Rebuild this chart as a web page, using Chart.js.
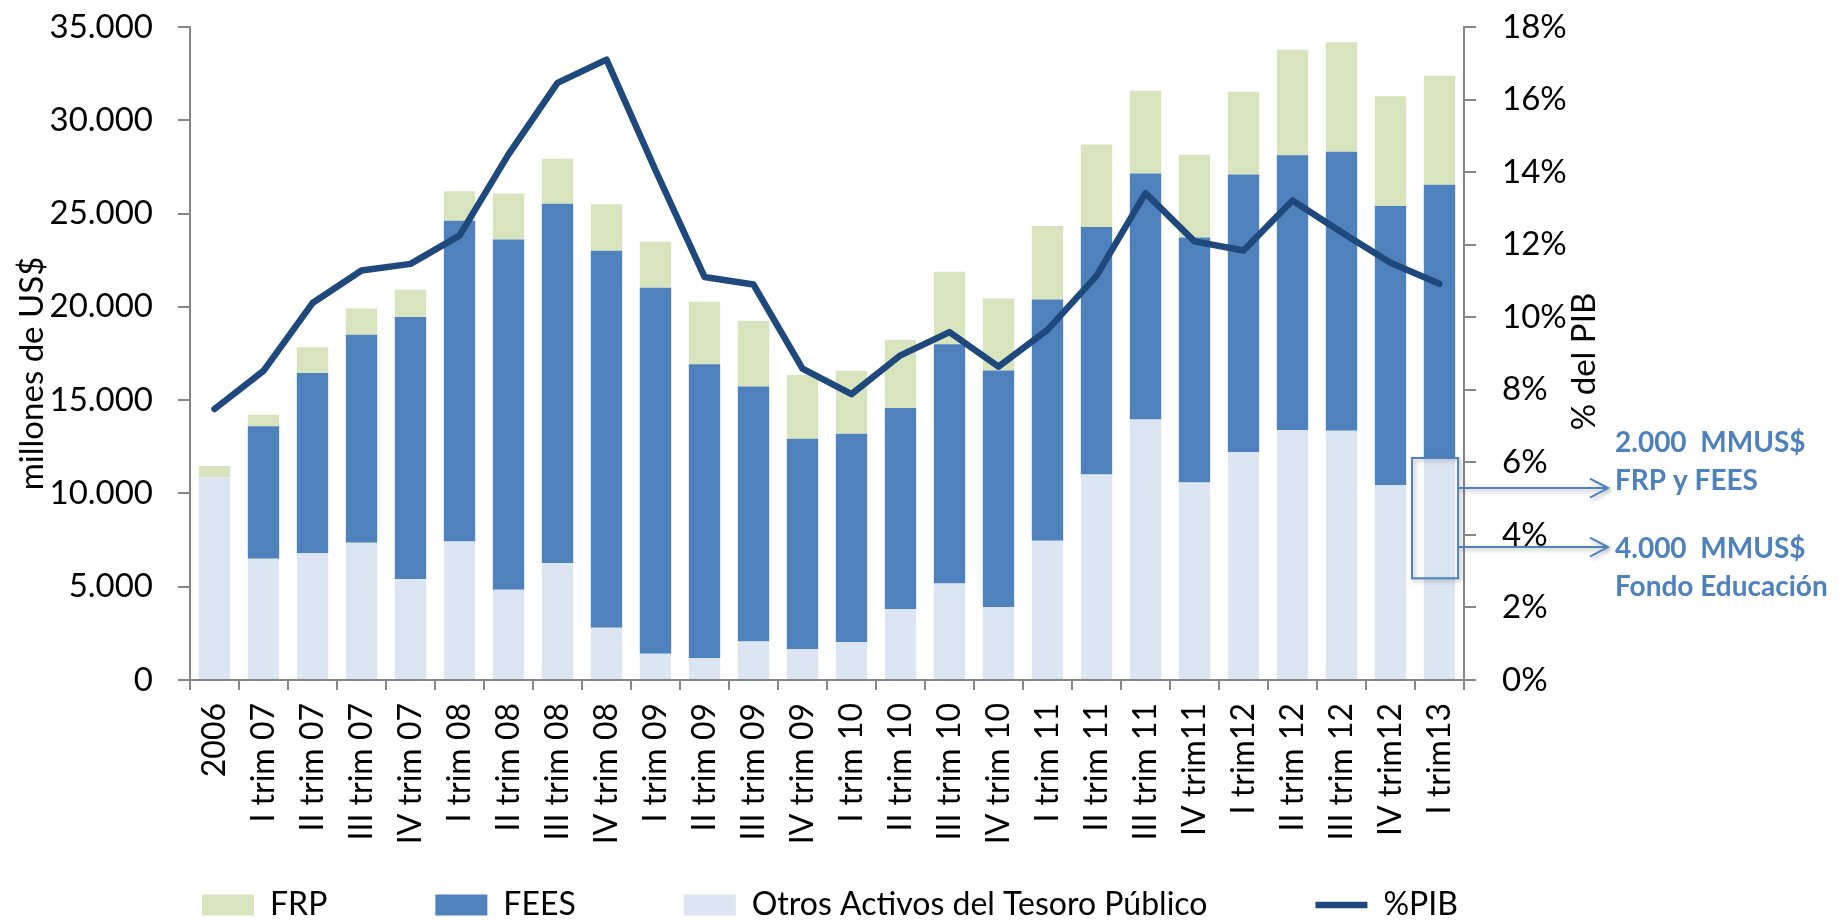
<!DOCTYPE html>
<html><head><meta charset="utf-8">
<script src="https://cdn.jsdelivr.net/npm/chart.js@4.4.1/dist/chart.umd.min.js"></script>
<style>html,body{margin:0;padding:0;background:#fff}#wrap{width:1841px;height:920px;position:relative}</style>
</head><body><div id="wrap"><canvas id="c"></canvas></div>
<script>
const categories = ['2006','I trim 07','II trim 07','III trim 07','IV trim 07','I trim 08','II trim 08','III trim 08','IV trim 08','I trim 09','II trim 09','III trim 09','IV trim 09','I trim 10','II trim 10','III trim 10','IV trim 10','I trim 11','II trim 11','III trim 11','IV trim11','I trim12','II trim 12','III trim 12','IV trim12','I trim13'];
const otros = [10870, 6500, 6800, 7350, 5410, 7420, 4840, 6270, 2800, 1410, 1170, 2060, 1650, 2035, 3810, 5170, 3900, 7470, 11010, 13960, 10580, 12210, 13380, 13360, 10440, 11830];
const fees  = [0, 7100, 9650, 11150, 14050, 17190, 18770, 19250, 20210, 19610, 15760, 13670, 11280, 11160, 10770, 12830, 12690, 12930, 13265, 13190, 13140, 14890, 14750, 14960, 14960, 14720];
const frp   = [600, 620, 1390, 1410, 1460, 1580, 2470, 2420, 2490, 2470, 3350, 3520, 3420, 3380, 3660, 3880, 3860, 3930, 4430, 4430, 4430, 4430, 5650, 5865, 5890, 5840];
const pibPct = [7.47, 8.52, 10.39, 11.29, 11.47, 12.25, 14.49, 16.46, 17.10, 14.05, 11.11, 10.90, 8.58, 7.88, 8.95, 9.59, 8.64, 9.65, 11.14, 13.42, 12.09, 11.84, 13.22, 12.34, 11.50, 10.92];
const seriesNames = ['Otros Activos del Tesoro Público', 'FEES', 'FRP', '%PIB'];
const axisTitles = ['millones de US$', '% del PIB'];
const eduBoxRange = [5450, 11900];
const noteLines = ['2.000  MMUS$', 'FRP y FEES', '4.000  MMUS$', 'Fondo Educación'];

Chart.defaults.font.family = 'Lato';
Chart.defaults.font.size = 33;
Chart.defaults.color = '#000';

const GRAY = '#868686';
const NOTE = '#4f81bd';
const legendRank = {2: 0, 1: 1, 0: 2, 3: 3};
const fmtThousands = v => String(v).replace(/\B(?=(\d{3})+(?!\d))/g, '.');
const noLabelClip = s => { s._computeLabelArea = () => undefined; };

const decor = {
  id: 'decor',
  afterDraw(chart) {
    const {ctx, chartArea: ca, scales} = chart;
    const xs = scales.x, ys = scales.y;
    const midY = (ca.top + ca.bottom) / 2;
    ctx.save();
    ctx.fillStyle = '#000';
    ctx.font = '33px Lato';
    ctx.textAlign = 'center';
    ctx.textBaseline = 'middle';
    ctx.save(); ctx.translate(ca.left - 158, midY + 20); ctx.rotate(-Math.PI / 2); ctx.fillText(axisTitles[0], 0, 0); ctx.restore();
    ctx.save(); ctx.translate(ca.right + 120, midY + 8); ctx.rotate(-Math.PI / 2); ctx.fillText(axisTitles[1], 0, 0); ctx.restore();

    // annotation box on last bar
    const last = categories.length - 1;
    const cx = xs.getPixelForValue(last);
    const catW = xs.getPixelForValue(1) - xs.getPixelForValue(0);
    const bx0 = cx - 0.56 * catW, bx1 = cx + 0.38 * catW;
    const by0 = ys.getPixelForValue(eduBoxRange[1]), by1 = ys.getPixelForValue(eduBoxRange[0]);
    const tipX = ca.right + 144;
    const a1 = by0 + 0.25 * (by1 - by0);
    const a2 = by0 + 0.74 * (by1 - by0);
    ctx.shadowColor = 'rgba(0,0,0,0.3)';
    ctx.shadowBlur = 4; ctx.shadowOffsetX = 2; ctx.shadowOffsetY = 2;
    ctx.strokeStyle = NOTE; ctx.lineWidth = 2;
    ctx.strokeRect(bx0, by0, bx1 - bx0, by1 - by0);
    [a1, a2].forEach(ay => {
      ctx.beginPath();
      ctx.moveTo(bx1, ay); ctx.lineTo(tipX, ay);
      ctx.moveTo(tipX - 18, ay - 9.5); ctx.lineTo(tipX, ay); ctx.lineTo(tipX - 18, ay + 9.5);
      ctx.stroke();
    });
    ctx.shadowColor = 'transparent';
    ctx.fillStyle = NOTE;
    ctx.font = 'bold 28px Lato';
    ctx.textAlign = 'left';
    ctx.textBaseline = 'alphabetic';
    const tx = ca.right + 151;
    ctx.fillText(noteLines[0], tx, a1 - 36);
    ctx.fillText(noteLines[1], tx, a1 + 1.5);
    ctx.fillText(noteLines[2], tx, a2 + 11);
    ctx.fillText(noteLines[3], tx, a2 + 49);
    ctx.restore();
  }
};

new Chart(document.getElementById('c'), {
  data: {
    labels: categories,
    datasets: [
      {type: 'bar', label: seriesNames[0], data: otros, backgroundColor: '#dce6f2', yAxisID: 'y', stack: 's', barPercentage: 0.64, categoryPercentage: 1.0, order: 0},
      {type: 'bar', label: seriesNames[1], data: fees, backgroundColor: '#4f81bd', yAxisID: 'y', stack: 's', barPercentage: 0.64, categoryPercentage: 1.0, order: 0},
      {type: 'bar', label: seriesNames[2], data: frp, backgroundColor: '#d7e4bd', yAxisID: 'y', stack: 's', barPercentage: 0.64, categoryPercentage: 1.0, order: 0},
      {type: 'line', label: seriesNames[3], data: pibPct, yAxisID: 'y2', borderColor: '#1f497d', backgroundColor: '#1f497d', borderWidth: 6.5, pointRadius: 0, tension: 0, borderCapStyle: 'round', borderJoinStyle: 'round', order: -1}
    ]
  },
  options: {
    responsive: true, maintainAspectRatio: false, animation: false,
    layout: {padding: {left: 94, top: 27, right: 0, bottom: 0}},
    plugins: {
      tooltip: {enabled: false},
      legend: {
        position: 'bottom', align: 'start', maxHeight: 139,
        labels: {
          usePointStyle: true, pointStyleWidth: 52, boxHeight: 21, padding: 108,
          color: '#000', font: {size: 32},
          generateLabels(chart) {
            const items = Chart.defaults.plugins.legend.labels.generateLabels(chart);
            items.forEach(it => { it.pointStyle = chart.data.datasets[it.datasetIndex].type === 'line' ? 'line' : 'rect'; });
            return items;
          },
          sort: (a, b) => legendRank[a.datasetIndex] - legendRank[b.datasetIndex]
        }
      }
    },
    scales: {
      x: {
        stacked: true, offset: true,
        grid: {offset: true, drawOnChartArea: false, tickLength: 10, color: GRAY, lineWidth: 2},
        border: {color: GRAY, width: 2},
        ticks: {minRotation: 90, maxRotation: 90, autoSkip: false, padding: 13, color: '#000', font: {size: 32}},
        afterFit: s => { s.height = 101; noLabelClip(s); }
      },
      y: {
        stacked: true, position: 'left', min: 0, max: 35000,
        grid: {drawOnChartArea: false, tickLength: 12, color: GRAY, lineWidth: 2},
        border: {color: GRAY, width: 2},
        ticks: {stepSize: 5000, padding: 25, color: '#000', font: {size: 33}, callback: v => fmtThousands(v)},
        afterFit: s => { s.width = 96; s.paddingTop = 0; noLabelClip(s); }
      },
      y2: {
        position: 'right', min: 0, max: 18,
        grid: {drawOnChartArea: false, tickLength: 12, color: GRAY, lineWidth: 2},
        border: {color: GRAY, width: 2},
        ticks: {stepSize: 2, padding: 26, color: '#000', font: {size: 33}, callback: v => v + '%'},
        afterFit: s => { s.width = 377; s.paddingTop = 0; }
      }
    }
  },
  plugins: [decor]
});
</script>
</body></html>
